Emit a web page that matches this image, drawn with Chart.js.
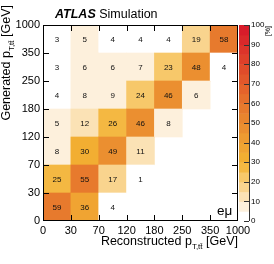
<!DOCTYPE html>
<html>
<head>
<meta charset="utf-8">
<script src="https://cdn.jsdelivr.net/npm/chart.js@4.4.1/dist/chart.umd.min.js"></script>
<style>
  html, body { margin: 0; padding: 0; background: #fff; }
  #c { display: block; }
</style>
</head>
<body>
<canvas id="c" width="274" height="264"></canvas>
<script>
// bin edges in GeV (same for generated and reconstructed)
const binEdges = ['0', '30', '70', '120', '180', '250', '350', '1000'];

// migration matrix [%], one row per generated bin (bottom to top),
// one entry per reconstructed bin (left to right), null = empty
const gen0to30 = [59, 36, 4, null, null, null, null];
const gen30to70 = [25, 55, 17, 1, null, null, null];
const gen70to120 = [8, 30, 49, 11, null, null, null];
const gen120to180 = [5, 12, 26, 46, 8, null, null];
const gen180to250 = [4, 8, 9, 24, 46, 6, null];
const gen250to350 = [3, 6, 6, 7, 23, 48, 4];
const gen350to1000 = [3, 5, 4, 4, 4, 19, 58];
const rows = [gen0to30, gen30to70, gen70to120, gen120to180, gen180to250, gen250to350, gen350to1000];

// colour bar: 20 bands of 5 %
const zStep = 5;
const zTicks = [0, 10, 20, 30, 40, 50, 60, 70, 80, 90, 100];
const palette = [
  '#ffffff', '#fdf0dc', '#fbe2b5', '#f9d48e', '#f7c86a',
  '#f4b842', '#f2ae32', '#f0a432', '#ee9b31', '#eb8f30',
  '#e9852e', '#e77a2d', '#e56f2c', '#e4632b', '#e2572b',
  '#e04c2a', '#de402a', '#dc342a', '#da282a', '#d81c2a'
];

const FONT = '"Liberation Sans", Arial, Helvetica, sans-serif';

function colorFor(v) {
  if (v == null) return '#ffffff';
  return palette[Math.min(palette.length - 1, Math.floor(v / zStep))];
}

const datasets = rows.map((vals, j) => ({
  label: binEdges[j] + '-' + binEdges[j + 1],
  data: vals
    .map((v, i) => (v == null ? null : { x: i + 0.5, y: [j, j + 1], v }))
    .filter(p => p),
  backgroundColor: ctx => colorFor(ctx.raw && ctx.raw.v),
  borderWidth: 0,
  grouped: false,
  barPercentage: 1,
  categoryPercentage: 1
}));

// draws subscripted axis title starting at (0,0) in current transform
function drawPTitle(ctx, prefix, align) {
  const big = '12.5px ' + FONT, small = '8px ' + FONT;
  const parts = [
    { t: prefix + 'p', f: big, dy: 0 },
    { t: 'T,t\u0074\u0304', f: small, dy: 4 },
    { t: ' [GeV]', f: big, dy: 0 }
  ];
  let total = 0;
  parts.forEach(p => { ctx.font = p.f; p.w = ctx.measureText(p.t).width; total += p.w; });
  let x = align === 'right' ? -total : 0;
  ctx.textAlign = 'left';
  ctx.textBaseline = 'alphabetic';
  parts.forEach(p => { ctx.font = p.f; ctx.fillText(p.t, x, p.dy); x += p.w; });
}

const decor = {
  id: 'decor',
  beforeDraw(chart) {
    const { ctx } = chart;
    ctx.save();
    ctx.fillStyle = '#fff';
    ctx.fillRect(0, 0, chart.width, chart.height);
    ctx.restore();
  },
  afterDatasetsDraw(chart) {
    const { ctx } = chart;
    ctx.save();
    ctx.fillStyle = '#111';
    ctx.font = '8px ' + FONT;
    ctx.textAlign = 'center';
    ctx.textBaseline = 'middle';
    chart.data.datasets.forEach((ds, di) => {
      chart.getDatasetMeta(di).data.forEach((el, k) => {
        const raw = ds.data[k];
        ctx.fillText(String(raw.v), el.x, (el.y + el.base) / 2 + 0.5);
      });
    });
    ctx.restore();
  },
  afterDraw(chart) {
    const { ctx, chartArea: a, scales } = chart;
    const xs = scales.x, ys = scales.y, zs = scales.z;
    ctx.save();
    ctx.strokeStyle = '#000';
    ctx.lineWidth = 1;
    // frame
    ctx.strokeRect(Math.round(a.left) + 0.5, Math.round(a.top) + 0.5,
      Math.round(a.right - a.left) - 1, Math.round(a.bottom - a.top) - 1);
    // inward ticks at bin edges
    const tl = 6;
    ctx.beginPath();
    for (let i = 1; i < binEdges.length - 1; i++) {
      const px = Math.round(xs.getPixelForValue(i)) + 0.5;
      ctx.moveTo(px, a.bottom); ctx.lineTo(px, a.bottom - tl);
      ctx.moveTo(px, a.top); ctx.lineTo(px, a.top + tl);
      const py = Math.round(ys.getPixelForValue(i)) + 0.5;
      ctx.moveTo(a.left, py); ctx.lineTo(a.left + tl, py);
      ctx.moveTo(a.right, py); ctx.lineTo(a.right - tl, py);
    }
    ctx.stroke();

    // colour bar
    const cbL = Math.round(zs.left) + 1, cbR = cbL + 10;
    palette.forEach((col, k) => {
      const y0 = zs.getPixelForValue(k * zStep), y1 = zs.getPixelForValue((k + 1) * zStep);
      ctx.fillStyle = col;
      ctx.fillRect(cbL, y1, cbR - cbL, y0 - y1 + 0.5);
    });
    ctx.strokeStyle = '#333';
    ctx.beginPath();
    ctx.moveTo(cbR + 0.5, zs.top); ctx.lineTo(cbR + 0.5, zs.bottom);
    zTicks.forEach(t => {
      const py = Math.round(zs.getPixelForValue(t)) + 0.5;
      ctx.moveTo(cbR, py); ctx.lineTo(cbR - 5, py);
    });
    ctx.stroke();

    ctx.fillStyle = '#000';
    // [%] label
    ctx.save();
    ctx.translate(270, a.top + 1);
    ctx.rotate(-Math.PI / 2);
    ctx.font = '7px ' + FONT;
    ctx.textAlign = 'right';
    ctx.textBaseline = 'alphabetic';
    ctx.fillText('[%]', 0, 0);
    ctx.restore();

    // title
    ctx.textAlign = 'left';
    ctx.textBaseline = 'alphabetic';
    ctx.font = 'italic bold 12.5px ' + FONT;
    ctx.fillText('ATLAS', 55, 18);
    const w = ctx.measureText('ATLAS ').width;
    ctx.font = '12.5px ' + FONT;
    ctx.fillText('Simulation', 55 + w, 18);

    // channel label
    ctx.font = '13.5px ' + FONT;
    ctx.fillText('e\u03bc', 217, 215);

    // x title
    ctx.save();
    ctx.translate(a.right, 245);
    drawPTitle(ctx, 'Reconstructed ', 'right');
    ctx.restore();

    // y title
    ctx.save();
    ctx.translate(10, 5);
    ctx.rotate(-Math.PI / 2);
    drawPTitle(ctx, 'Generated ', 'right');
    ctx.restore();

    ctx.restore();
  }
};

new Chart(document.getElementById('c'), {
  type: 'bar',
  data: { datasets },
  options: {
    responsive: false,
    animation: false,
    devicePixelRatio: 1,
    layout: { padding: { top: 25, left: 0, right: 0, bottom: 0 } },
    plugins: { legend: { display: false }, tooltip: { enabled: false } },
    scales: {
      x: {
        type: 'linear', min: 0, max: 7, offset: false,
        grid: { display: false, drawTicks: false }, border: { display: false },
        ticks: {
          stepSize: 1, autoSkip: false, maxRotation: 0, padding: 3,
          color: '#000', font: { family: FONT, size: 11 },
          callback: v => binEdges[v]
        },
        afterFit: s => { s.height = 43; }
      },
      y: {
        type: 'linear', min: 0, max: 7,
        grid: { display: false, drawTicks: false }, border: { display: false },
        ticks: {
          stepSize: 1, autoSkip: false, padding: 3,
          color: '#000', font: { family: FONT, size: 11 },
          callback: v => binEdges[v]
        },
        afterFit: s => { s.width = 43; }
      },
      z: {
        type: 'linear', position: 'right', min: 0, max: 100,
        grid: { display: false, drawTicks: false }, border: { display: false },
        ticks: {
          stepSize: 10, autoSkip: false, padding: 13,
          color: '#000', font: { family: FONT, size: 8 }
        },
        afterFit: s => { s.width = 36; }
      }
    }
  },
  plugins: [decor]
});
</script>
</body>
</html>
